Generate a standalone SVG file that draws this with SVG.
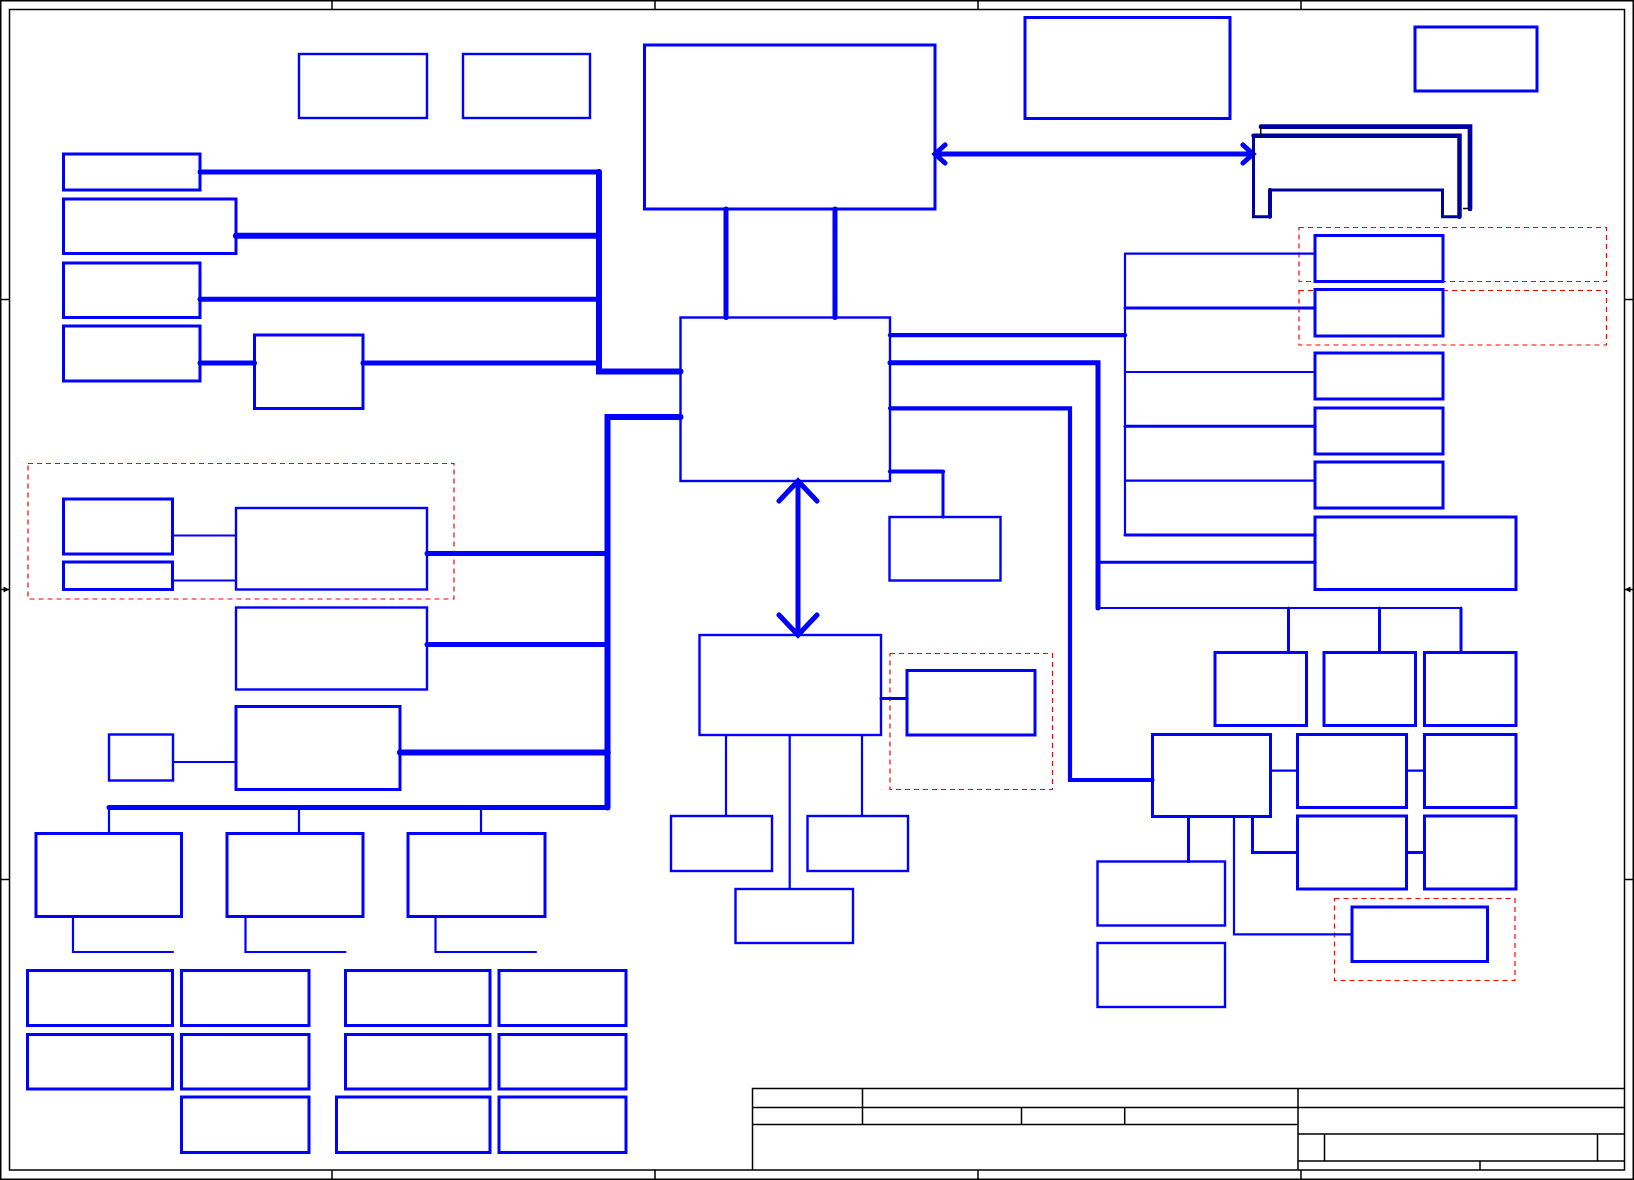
<svg xmlns="http://www.w3.org/2000/svg" width="1634" height="1180" viewBox="0 0 1634 1180">
<style>
.frame{fill:none;stroke:#000;stroke-width:1.5}
.b{fill:none;stroke:#0000FF;stroke-width:3}
.bt{fill:none;stroke:#0000FF;stroke-width:2.4}
.dash{fill:none;stroke:#FF0000;stroke-width:1.2;stroke-dasharray:5,4}
.c{fill:none;stroke:#0000FF;stroke-linecap:round;stroke-linejoin:miter}
.w2{stroke-width:2.2}
.w3{stroke-width:3}
.w4{stroke-width:4.2}
.w5{stroke-width:5}
.w6{stroke-width:6}
.nv{fill:none;stroke:#0000A0;stroke-linecap:round}
</style>
<rect width="1634" height="1180" fill="#fff"/>
<g id="frame">
<rect class="frame" x="0.75" y="0.75" width="1632.5" height="1178.5"/>
<rect class="frame" x="9.5" y="9.5" width="1615" height="1160.5"/>
<path class="frame" d="M332,0V9.5M655,0V9.5M978,0V9.5M1301,0V9.5M332,1170V1180M655,1170V1180M978,1170V1180M1301,1170V1180M0,299.5H9.5M0,879.5H9.5M1624.5,299.5H1634M1624.5,879.5H1634M0,589.5H9.5M1624.5,589.5H1634"/>
<path d="M9,589.5L3.5,586.5V592.5Z M1625,589.5L1630.5,586.5V592.5Z" fill="#000"/>
</g>
<g id="titleblock">
<path class="frame" d="M752.5,1170V1088.5H1624.5M752.5,1107.5H1624.5M752.5,1124.5H1298M862.5,1088.5V1124.5M1021.5,1107.5V1124.5M1124.7,1107.5V1124.5M1298,1088.5V1170M1298,1134H1624.5M1324.5,1134V1161M1597.5,1134V1161M1298,1161H1624.5M1480,1161V1170"/>
</g>
<g id="groups">
<rect class="dash" x="28" y="463.5" width="426" height="135.5"/>
<rect class="dash" x="1299" y="227.5" width="307.5" height="54"/>
<rect class="dash" x="1299" y="290.5" width="307.5" height="54.5"/>
<rect class="dash" x="890" y="653.5" width="162.5" height="136"/>
<rect class="dash" x="1334.5" y="898.5" width="180.5" height="82"/>
</g>
<g id="connectors">
<path class="c w5" d="M200,172H599"/>
<path class="c w6" d="M236,235.7H599"/>
<path class="c w5" d="M200,299.3H599"/>
<path class="c w5" d="M200,363H254.5M363,363H599"/>
<path class="c w6" d="M599,172V371.5H680.5"/>
<path class="c w6" d="M680.5,417H607.5V807.5"/>
<path class="c w5" d="M607.5,807.5H109"/>
<path class="c w5" d="M427,553.5H607.5M427,644.5H607.5"/>
<path class="c w6" d="M400,752.5H607.5"/>
<path class="c w2" d="M172.5,535.5H236M172.5,580.5H236M173,762H236"/>
<path class="c w2" d="M109,807V833.5M299,807V833.5M481,807V833.5"/>
<path class="c w2" d="M73,917V952H173M245.5,917V952H345.5M435.5,917V952H536"/>
<path class="c w5" d="M726,209V317.5M835,209V317.5"/>
<path class="c w5" d="M935,154H1253M945,145L935,154L945,163M1243,145L1253,154L1243,163"/>
<path class="c w5" d="M798,481V635M779,501L798,481L817,501M779,615L798,635L817,615"/>
<path class="c w4" d="M890,335.2H1125"/>
<path class="c w5" d="M890,362.8H1098V608"/>
<path class="c w4" d="M890,408.3H1070V780H1152.5"/>
<path class="c w4" d="M890,471.5H943"/>
<path class="c w3" d="M943,471.5V517"/>
<path class="c w2" d="M1125,253.7V535M1125,253.7H1315M1125,372H1315M1125,480.7H1315"/>
<path class="c w3" d="M1125,308H1315M1125,426.3H1315M1125,535H1315M1098,562.2H1315"/>
<path class="c w2" d="M1098,608H1461"/>
<path class="c w3" d="M1288.5,608V652.5M1379.5,608V652.5M1461,608V652.5"/>
<path class="c w2" d="M1270.5,770.6H1297.5M1406.5,770.6H1424.5"/>
<path class="c w3" d="M1252.5,816.5V852.5H1297.5M1406.5,852.5H1424.5M1188.5,816.5V861.5"/>
<path class="c w2" d="M1234,816.5V934.4H1352"/>
<path class="c w2" d="M726,735V816M789.7,735V889M862,735V816"/>
<path class="c w3" d="M881,698.6H907"/>
</g>
<g id="connector-bracket">
<path class="nv" stroke-width="4.7" d="M1261,126.7H1470V209"/>
<path class="nv" stroke-width="4.5" d="M1253.5,135.8H1459.5V216.7"/>
<path class="nv" stroke-width="3" d="M1253.5,135.8V216.7H1270V190H1442.5V216.7H1459.5"/>
<path class="nv" stroke-width="4" d="M1270,216.7V190"/>
<path d="M1260.7,127V137M1463,208.5H1468" stroke="#000" stroke-width="1.5" fill="none"/>
</g>
<g id="n-A"><rect class="bt" x="299" y="54" width="128" height="64"/></g>
<g id="n-B"><rect class="bt" x="463" y="54" width="127" height="64"/></g>
<g id="n-C"><rect class="b" x="644.5" y="45" width="290.5" height="164"/></g>
<g id="n-N"><rect class="b" x="1025" y="17.5" width="205" height="101"/></g>
<g id="n-O"><rect class="b" x="1415" y="27" width="122" height="64"/></g>
<g id="n-D1"><rect class="b" x="63.5" y="154" width="136.5" height="36"/></g>
<g id="n-D2"><rect class="b" x="63.5" y="199" width="172.5" height="54.5"/></g>
<g id="n-D3"><rect class="b" x="63.5" y="263" width="136.5" height="54.5"/></g>
<g id="n-D4"><rect class="b" x="63.5" y="326" width="136.5" height="55"/></g>
<g id="n-E"><rect class="b" x="254.5" y="335" width="108.5" height="73.5"/></g>
<g id="n-F"><rect class="bt" x="680.5" y="317.5" width="209.5" height="163.5"/></g>
<g id="n-H1"><rect class="b" x="63.5" y="499" width="109" height="55"/></g>
<g id="n-H2"><rect class="b" x="63.5" y="562" width="109" height="27.5"/></g>
<g id="n-H3"><rect class="bt" x="236" y="508" width="191" height="81.5"/></g>
<g id="n-I"><rect class="bt" x="236" y="607.5" width="191" height="82"/></g>
<g id="n-J"><rect class="b" x="236" y="706.5" width="164" height="83"/></g>
<g id="n-K"><rect class="bt" x="109" y="734.5" width="64" height="46"/></g>
<g id="n-L1"><rect class="b" x="36" y="833.5" width="145.5" height="83"/></g>
<g id="n-L2"><rect class="b" x="227" y="833.5" width="136" height="83"/></g>
<g id="n-L3"><rect class="b" x="408" y="833.5" width="137" height="83"/></g>
<g id="n-g11"><rect class="b" x="27.5" y="970.5" width="145" height="55"/></g>
<g id="n-g12"><rect class="b" x="181.5" y="970.5" width="127.5" height="55"/></g>
<g id="n-g13"><rect class="b" x="345.5" y="970.5" width="144.5" height="55"/></g>
<g id="n-g14"><rect class="b" x="499" y="970.5" width="127" height="55"/></g>
<g id="n-g21"><rect class="b" x="27.5" y="1034.5" width="145" height="54.5"/></g>
<g id="n-g22"><rect class="b" x="181.5" y="1034.5" width="127.5" height="54.5"/></g>
<g id="n-g23"><rect class="b" x="345.5" y="1034.5" width="144.5" height="54.5"/></g>
<g id="n-g24"><rect class="b" x="499" y="1034.5" width="127" height="54.5"/></g>
<g id="n-g32"><rect class="b" x="181.5" y="1097" width="127.5" height="55.5"/></g>
<g id="n-g33"><rect class="b" x="336.5" y="1097" width="153.5" height="55.5"/></g>
<g id="n-g34"><rect class="b" x="499" y="1097" width="127" height="55.5"/></g>
<g id="n-G"><rect class="bt" x="699.5" y="635" width="181.5" height="100"/></g>
<g id="n-M1"><rect class="bt" x="671" y="816" width="101" height="55"/></g>
<g id="n-M2"><rect class="bt" x="807.5" y="816" width="100.5" height="55"/></g>
<g id="n-M3"><rect class="bt" x="735.5" y="889" width="117.5" height="54"/></g>
<g id="n-S"><rect class="bt" x="889.5" y="517" width="111" height="63.5"/></g>
<g id="n-X"><rect class="b" x="907" y="670.5" width="128" height="64.5"/></g>
<g id="n-R1"><rect class="b" x="1315" y="235.5" width="128" height="46"/></g>
<g id="n-R2"><rect class="b" x="1315" y="289.5" width="128" height="46.5"/></g>
<g id="n-R3"><rect class="b" x="1315" y="353" width="128" height="46"/></g>
<g id="n-R4"><rect class="b" x="1315" y="408" width="128" height="46"/></g>
<g id="n-R5"><rect class="b" x="1315" y="462" width="128" height="46"/></g>
<g id="n-R6"><rect class="b" x="1315" y="517" width="201" height="72.5"/></g>
<g id="n-T1"><rect class="b" x="1215" y="652.5" width="91.5" height="73"/></g>
<g id="n-T2"><rect class="b" x="1324" y="652.5" width="91.5" height="73"/></g>
<g id="n-T3"><rect class="b" x="1424.5" y="652.5" width="91.5" height="73"/></g>
<g id="n-Q"><rect class="b" x="1152.5" y="734.5" width="118" height="82"/></g>
<g id="n-U1"><rect class="b" x="1297.5" y="734.5" width="109" height="73"/></g>
<g id="n-U2"><rect class="b" x="1424.5" y="734.5" width="91.5" height="73"/></g>
<g id="n-U3"><rect class="b" x="1297.5" y="816" width="109" height="73"/></g>
<g id="n-U4"><rect class="b" x="1424.5" y="816" width="91.5" height="73"/></g>
<g id="n-V1"><rect class="bt" x="1097.5" y="861.5" width="127.5" height="64"/></g>
<g id="n-V2"><rect class="bt" x="1097.5" y="943" width="127.5" height="64"/></g>
<g id="n-W"><rect class="b" x="1352" y="907" width="135.5" height="54.5"/></g>
</svg>
